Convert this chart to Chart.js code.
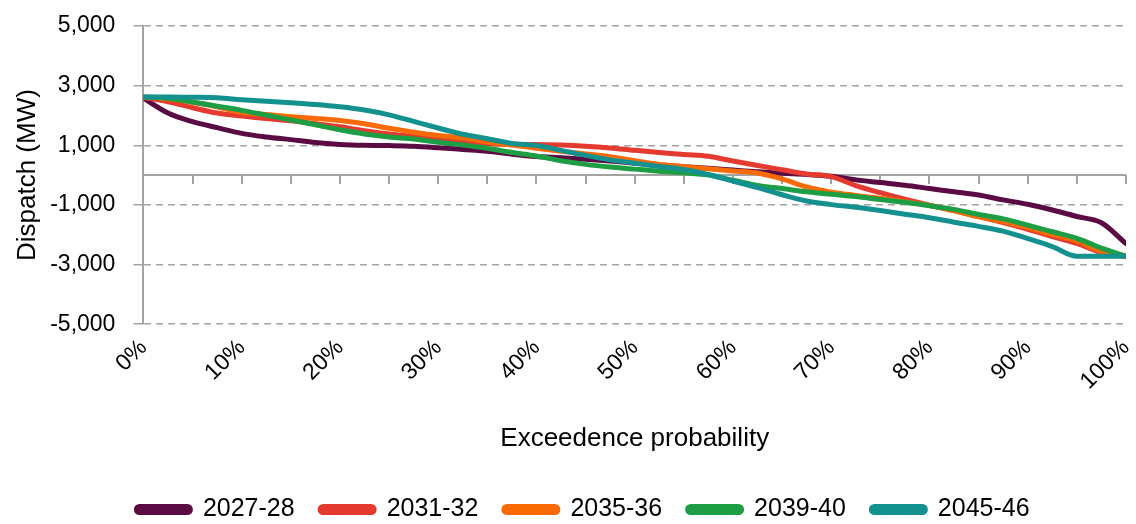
<!DOCTYPE html>
<html>
<head>
<meta charset="utf-8">
<script src="https://cdn.jsdelivr.net/npm/chart.js@4.4.1/dist/chart.umd.min.js"></script>
<style>
  html, body { margin: 0; padding: 0; background: #ffffff; }
  canvas { display: block; }
</style>
</head>
<body>
<canvas id="chart" width="1136" height="524"></canvas>
<script>
// exceedence probability (%) for each point
const probabilities = [0, 2.5, 5, 7.5, 10, 12.5, 15, 17.5, 20, 22.5, 25, 27.5, 30, 32.5, 35, 37.5, 40,
    42.5, 45, 47.5, 50, 52.5, 55, 57.5, 60, 62.5, 65, 67.5, 70, 72.5, 75, 77.5, 80, 82.5, 85, 87.5, 90,
    92.5, 95, 97.5, 100];

const seriesNames = ['2027-28', '2031-32', '2035-36', '2039-40', '2045-46'];

// dispatch (MW)
const dispatch2027 = [2580, 2080, 1790, 1590, 1400, 1280, 1190, 1090, 1030, 1000, 990, 970, 920, 860, 800, 700,
    620, 580, 530, 470, 400, 340, 280, 230, 170, 110, 60, 20, -40, -160, -250, -340, -450, -560, -670, -830,
    -980, -1170, -1390, -1600, -2300];
const dispatch2031 = [2600, 2460, 2260, 2080, 1980, 1900, 1820, 1720, 1620, 1490, 1380, 1290, 1200, 1110, 1050,
    1030, 1030, 1010, 970, 910, 830, 760, 690, 630, 470, 320, 180, 40, -50, -350, -590, -810, -1010, -1190,
    -1390, -1590, -1820, -2060, -2290, -2600, -2720];
const dispatch2035 = [2620, 2560, 2440, 2290, 2100, 2030, 1960, 1900, 1830, 1720, 1570, 1440, 1330, 1240, 1110,
    1010, 900, 800, 710, 620, 480, 360, 290, 210, 140, 70, -130, -400, -570, -680, -780, -890, -1020, -1200,
    -1400, -1560, -1760, -1990, -2210, -2560, -2720];
const dispatch2039 = [2620, 2580, 2450, 2310, 2170, 2010, 1850, 1690, 1520, 1380, 1280, 1210, 1100, 1010, 900,
    760, 640, 480, 360, 270, 200, 130, 75, 0, -170, -350, -450, -560, -640, -720, -820, -910, -1030, -1150,
    -1320, -1470, -1680, -1900, -2120, -2450, -2720];
const dispatch2045 = [2620, 2620, 2610, 2590, 2530, 2480, 2430, 2370, 2290, 2180, 2020, 1800, 1580, 1370, 1220,
    1060, 990, 830, 660, 510, 400, 290, 190, 20, -200, -420, -660, -870, -990, -1080, -1190, -1310, -1430,
    -1580, -1720, -1880, -2130, -2400, -2720, -2720, -2720];

const seriesValues = [dispatch2027, dispatch2031, dispatch2035, dispatch2039, dispatch2045];
const seriesColors = ['#5a0b43', '#e43a2f', '#fa6a05', '#1d9e44', '#13918f'];

const fontFamily = "'Liberation Sans', Arial, sans-serif";
const axisGrey = '#a3a3a3';

// x axis drawn through zero, with small ticks every 5%
const zeroAxis = {
    id: 'zeroAxis',
    beforeDatasetsDraw(chart) {
        const {ctx, chartArea, scales} = chart;
        const y0 = scales.y.getPixelForValue(0);
        ctx.save();
        ctx.strokeStyle = axisGrey;
        ctx.lineWidth = 2;
        ctx.beginPath();
        ctx.moveTo(chartArea.left, y0);
        ctx.lineTo(chartArea.right, y0);
        for (let p = 0; p <= 100; p += 5) {
            const px = Math.round(scales.x.getPixelForValue(p));
            ctx.moveTo(px, y0);
            ctx.lineTo(px, y0 + 9);
        }
        ctx.stroke();
        ctx.restore();
    }
};

// legend sits a little right of and below the default spot
const legendNudge = {
    id: 'legendNudge',
    afterLayout(chart) {
        const lg = chart.legend;
        lg.left += 17; lg.right += 17;
        lg.top += 8; lg.bottom += 8;
    }
};

const datasets = seriesNames.map((name, i) => ({
    label: name,
    data: probabilities.map((p, j) => ({x: p, y: seriesValues[i][j]})),
    borderColor: seriesColors[i],
    backgroundColor: seriesColors[i],
    borderWidth: 5,
    pointRadius: 0,
    cubicInterpolationMode: 'monotone',
    borderCapStyle: 'round',
    borderJoinStyle: 'round',
    order: seriesNames.length - i
}));

new Chart(document.getElementById('chart'), {
    type: 'line',
    data: {datasets: datasets},
    plugins: [zeroAxis, legendNudge],
    options: {
        responsive: false,
        animation: false,
        devicePixelRatio: 1,
        layout: {
            padding: {left: 6, right: 10, top: 26, bottom: 0}
        },
        plugins: {
            tooltip: {enabled: false},
            legend: {
                position: 'bottom',
                labels: {
                    font: {family: fontFamily, size: 25},
                    color: '#000000',
                    boxWidth: 54,
                    boxHeight: 6,
                    useBorderRadius: true,
                    borderRadius: 3,
                    padding: 25.5,
                    sort: (a, b) => a.datasetIndex - b.datasetIndex
                }
            }
        },
        scales: {
            x: {
                type: 'linear',
                min: 0,
                max: 100,
                grid: {display: false, drawTicks: false},
                border: {display: false},
                ticks: {
                    stepSize: 10,
                    autoSkip: false,
                    minRotation: 45,
                    maxRotation: 45,
                    padding: 10,
                    color: '#000000',
                    font: {family: fontFamily, size: 23},
                    callback: v => v + '%'
                },
                title: {
                    display: true,
                    text: 'Exceedence probability',
                    color: '#000000',
                    font: {family: fontFamily, size: 26},
                    padding: {top: 18, bottom: 9}
                },
                afterFit(scale) {
                    scale.paddingLeft = 0;
                    scale.paddingRight = 0;
                }
            },
            y: {
                min: -5000,
                max: 5000,
                grid: {
                    color: axisGrey,
                    lineWidth: 1.5,
                    tickLength: 10,
                    tickColor: axisGrey,
                    tickWidth: 1.5
                },
                border: {display: true, color: axisGrey, width: 2, dash: [7, 5]},
                ticks: {
                    stepSize: 2000,
                    padding: 18,
                    color: '#000000',
                    font: {family: fontFamily, size: 23},
                    callback: v => v.toLocaleString('en-US')
                },
                title: {
                    display: true,
                    text: 'Dispatch (MW)',
                    color: '#000000',
                    font: {family: fontFamily, size: 26},
                    padding: {top: 6, bottom: 7}
                },
                afterFit(scale) {
                    scale.paddingTop = 0;
                    scale.paddingBottom = 0;
                    // tick padding is only wanted once, between labels and tick marks
                    scale.width -= scale.options.ticks.padding;
                }
            }
        }
    }
});
</script>
</body>
</html>
